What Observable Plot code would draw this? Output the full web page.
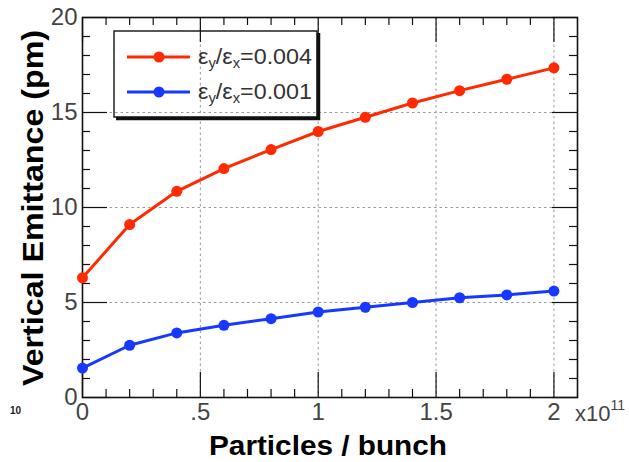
<!DOCTYPE html>
<html><head><meta charset="utf-8">
<script src="https://cdn.jsdelivr.net/npm/d3@7"></script>
<script src="https://cdn.jsdelivr.net/npm/@observablehq/plot@0.6"></script>
<style>body{margin:0;background:#fff} svg{display:block}</style>
</head><body><div id="chart"></div>
<script>
// Particles per bunch (units of 1e11)
const particles = [0, 0.2, 0.4, 0.6, 0.8, 1.0, 1.2, 1.4, 1.6, 1.8, 2.0];
// Vertical emittance (pm) for ey/ex = 0.004
const emitRatio004 = [6.3, 9.1, 10.85, 12.05, 13.05, 14.0, 14.75, 15.5, 16.15, 16.75, 17.35];
// Vertical emittance (pm) for ey/ex = 0.001
const emitRatio001 = [1.55, 2.75, 3.4, 3.8, 4.15, 4.5, 4.75, 5.0, 5.25, 5.4, 5.6];
const seriesNames = ["0.004", "0.001"];
const seriesColors = ["#ff2a00", "#1638ff"];

const xMajor = [0, 0.5, 1, 1.5, 2];
const xMajorLabels = ["0", ".5", "1", "1.5", "2"];
const xMinor = [0.1, 0.2, 0.3, 0.4, 0.6, 0.7, 0.8, 0.9, 1.1, 1.2, 1.3, 1.4, 1.6, 1.7, 1.8, 1.9];
const xGrid = [0.5, 1, 1.5, 2];
const yMajor = [0, 5, 10, 15, 20];
const yMajorLabels = ["0", "5", "10", "15", "20"];
const yMinor = [1, 2, 3, 4, 6, 7, 8, 9, 11, 12, 13, 14, 16, 17, 18, 19];
const yGrid = [5, 10, 15];
const xTitle = "Particles / bunch";
const yTitle = "Vertical Emittance (pm)";

const W = 629, H = 462;
const mL = 82, mR = 52, mT = 17, mB = 65;
const iw = W - mL - mR, ih = H - mT - mB;
const majLen = 25, minLen = 8;

const data = [];
particles.forEach((p, i) => {
  data.push({x: p, y: emitRatio004[i], s: seriesNames[0]});
  data.push({x: p, y: emitRatio001[i], s: seriesNames[1]});
});

const tickFont = "'Liberation Sans Narrow','Arial Narrow','Liberation Sans',Arial,sans-serif";
const boldFont = "'Liberation Sans',Arial,Helvetica,sans-serif";

const chart = Plot.plot({
  width: W, height: H,
  marginLeft: mL, marginRight: mR, marginTop: mT, marginBottom: mB,
  style: {fontFamily: tickFont, background: "#fff", color: "#222"},
  x: {domain: [0, 2.1]},
  y: {domain: [0, 20]},
  color: {domain: seriesNames, range: seriesColors},
  marks: [
    Plot.gridX(xGrid, {stroke: "#999", strokeOpacity: 1, strokeDasharray: "2.5,3", strokeWidth: 1}),
    Plot.gridY(yGrid, {stroke: "#999", strokeOpacity: 1, strokeDasharray: "2.5,3", strokeWidth: 1}),
    // inward ticks, bottom & top
    Plot.tickX(xMajor, {x: d => d, insetTop: ih - majLen, stroke: "#111", strokeWidth: 1.2}),
    Plot.tickX(xMajor, {x: d => d, insetBottom: ih - majLen, stroke: "#111", strokeWidth: 1.2}),
    Plot.tickX(xMinor, {x: d => d, insetTop: ih - minLen, stroke: "#111", strokeWidth: 1.2}),
    Plot.tickX(xMinor, {x: d => d, insetBottom: ih - minLen, stroke: "#111", strokeWidth: 1.2}),
    // inward ticks, left & right
    Plot.tickY(yMajor, {y: d => d, insetRight: iw - majLen, stroke: "#111", strokeWidth: 1.2}),
    Plot.tickY(yMajor, {y: d => d, insetLeft: iw - majLen, stroke: "#111", strokeWidth: 1.2}),
    Plot.tickY(yMinor, {y: d => d, insetRight: iw - minLen, stroke: "#111", strokeWidth: 1.2}),
    Plot.tickY(yMinor, {y: d => d, insetLeft: iw - minLen, stroke: "#111", strokeWidth: 1.2}),
    Plot.frame({stroke: "#111", strokeWidth: 1.6}),
    Plot.axisX(xMajor, {tickSize: 0, tickPadding: 5, fontSize: 24, label: null, fill: "#444",
      tickFormat: (d) => xMajorLabels[xMajor.indexOf(d)]}),
    Plot.axisY(yMajor, {tickSize: 0, tickPadding: 5, fontSize: 24, label: null, fill: "#444",
      tickFormat: (d) => yMajorLabels[yMajor.indexOf(d)]}),
    Plot.line(data, {x: "x", y: "y", z: "s", stroke: "s", strokeWidth: 3}),
    Plot.dot(data, {x: "x", y: "y", fill: "s", r: 5.5})
  ]
});
document.getElementById("chart").appendChild(chart);

const svg = d3.select(chart);
// axis titles
svg.append("text").attr("x", 328).attr("y", 455).attr("text-anchor", "middle")
  .attr("font-family", boldFont).attr("font-weight", "bold").attr("font-size", 28).attr("fill", "#000")
  .attr("textLength", 238).attr("lengthAdjust", "spacingAndGlyphs").text(xTitle);
svg.append("text").attr("transform", "translate(43,208) rotate(-90)").attr("text-anchor", "middle")
  .attr("font-family", boldFont).attr("font-weight", "bold").attr("font-size", 29).attr("fill", "#000")
  .attr("textLength", 356).attr("lengthAdjust", "spacingAndGlyphs").text(yTitle);
// exponent label
const ex = svg.append("text").attr("x", 575).attr("y", 421).attr("text-anchor", "start")
  .attr("font-family", tickFont).attr("font-size", 22).attr("fill", "#444");
ex.append("tspan").text("x10");
ex.append("tspan").attr("dy", -11).attr("font-size", 14).text("11");
// stray label at lower left
svg.append("text").attr("x", 10).attr("y", 414).attr("text-anchor", "start").attr("font-family", boldFont)
  .attr("font-size", 10).attr("font-weight", "bold").attr("fill", "#222").text("10");

// legend (transparent box with shadow)
const lg = svg.append("g");
lg.append("path").attr("d", "M116,118.5 H318.5 V33").attr("fill", "none").attr("stroke", "#111").attr("stroke-width", 3.5);
lg.append("rect").attr("x", 114).attr("y", 31).attr("width", 203).attr("height", 86)
  .attr("fill", "none").attr("stroke", "#111").attr("stroke-width", 1.4);
seriesNames.forEach((name, i) => {
  const y = 57 + i * 35;
  lg.append("line").attr("x1", 127).attr("x2", 190).attr("y1", y).attr("y2", y)
    .attr("stroke", seriesColors[i]).attr("stroke-width", 3);
  lg.append("circle").attr("cx", 159).attr("cy", y).attr("r", 5.5).attr("fill", seriesColors[i]);
  const t = lg.append("text").attr("x", 198).attr("y", y + 7).attr("text-anchor", "start")
    .attr("font-family", tickFont).attr("font-size", 22).attr("fill", "#333")
    .attr("textLength", 114).attr("lengthAdjust", "spacingAndGlyphs");
  t.append("tspan").text("ε");
  t.append("tspan").attr("dy", 4).attr("font-size", 14).text("y");
  t.append("tspan").attr("dy", -4).text("/ε");
  t.append("tspan").attr("dy", 4).attr("font-size", 14).text("x");
  t.append("tspan").attr("dy", -4).text("=" + name);
});
</script>
</body></html>
